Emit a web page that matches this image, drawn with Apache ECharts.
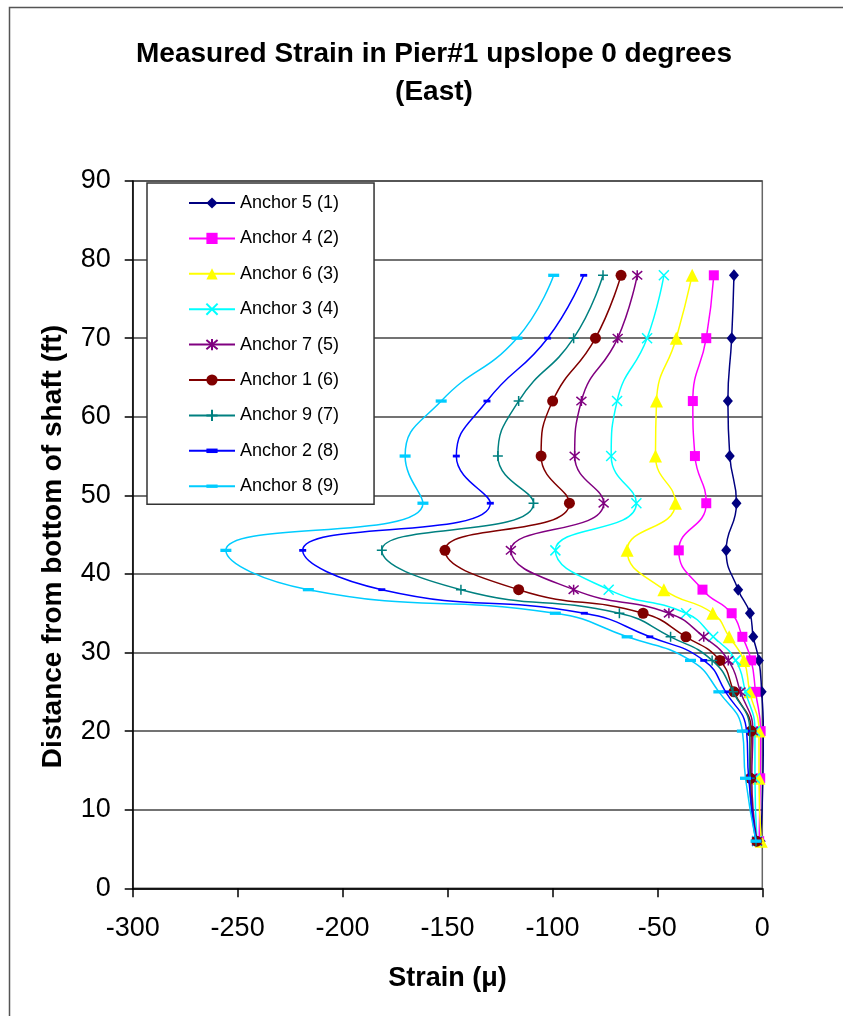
<!DOCTYPE html>
<html>
<head>
<meta charset="utf-8">
<script src="https://cdn.jsdelivr.net/npm/echarts@6/dist/echarts.min.js"></script>
<style>
html,body{margin:0;padding:0;background:#fff;}
#chart{width:843px;height:1016px;}
</style>
</head>
<body>
<div id="chart"></div>
<script>
// Depth (ft) of each gauge
const depths = [78, 70, 62, 55, 49, 43, 38, 35, 32, 29, 25, 20, 14, 6];
// Strain values for each anchor, same order as depths
const anchor5 = [-13.5, -14.6, -16.4, -15.5, -12.3, -17.2, -11.5, -5.9, -4.3, -1.6, -0.3, 0.5, 0.3, -0.8];
const anchor4 = [-23.1, -26.7, -33.1, -32.1, -26.7, -39.8, -28.5, -14.6, -9.5, -5.3, -3.2, -0.8, -1.0, -1.5];
const anchor6 = [-33.4, -41.0, -50.4, -50.9, -41.4, -64.4, -46.9, -23.6, -15.8, -8.8, -6.0, -1.6, -1.6, -0.5];
const anchor3 = [-46.9, -54.9, -69.2, -72.0, -60.0, -98.6, -73.2, -36.3, -23.4, -12.7, -8.0, -3.5, -3.5, -2.5];
const anchor7 = [-59.6, -68.9, -86.2, -89.4, -75.6, -119.8, -89.9, -44.5, -27.9, -16.2, -10.4, -4.5, -5.0, -2.5];
const anchor1 = [-67.3, -79.5, -99.9, -105.4, -91.9, -151.2, -116.1, -56.8, -36.4, -20.2, -13.5, -5.3, -5.6, -2.7];
const anchor9 = [-75.9, -89.9, -116.1, -126.0, -109.0, -181.3, -143.6, -68.1, -43.7, -23.9, -14.0, -6.0, -6.0, -3.0];
const anchor2 = [-85.1, -102.3, -131.2, -145.8, -129.6, -219.0, -181.3, -84.8, -53.6, -27.9, -17.5, -7.5, -6.5, -3.0];
const anchor8 = [-99.4, -116.9, -153.0, -170.2, -161.7, -255.6, -216.3, -98.6, -64.4, -34.2, -20.7, -9.5, -8.0, -3.0];

const seriesNames = ['Anchor 5 (1)', 'Anchor 4 (2)', 'Anchor 6 (3)', 'Anchor 3 (4)', 'Anchor 7 (5)',
                     'Anchor 1 (6)', 'Anchor 9 (7)', 'Anchor 2 (8)', 'Anchor 8 (9)'];
const seriesValues = [anchor5, anchor4, anchor6, anchor3, anchor7, anchor1, anchor9, anchor2, anchor8];

const xTicks = {min: -300, max: 0, interval: 50};
const yTicks = {min: 0, max: 90, interval: 10};
const titleLines = ['Measured Strain in Pier#1 upslope 0 degrees', '(East)'];
const xName = 'Strain (\u03bc)';
const yName = 'Distance from bottom of shaft (ft)';

// styles
const FONT = "'Liberation Sans', Arial, sans-serif";
const styles = [
  {color: '#000080', symbol: 'diamond', size: [10, 12], stroke: false},
  {color: '#FF00FF', symbol: 'rect', size: 10, stroke: false},
  {color: '#FFFF00', symbol: 'triangle', size: 13, stroke: false},
  {color: '#00FFFF', symbol: 'path://M0,0L10,10M10,0L0,10', size: 10, stroke: true},
  {color: '#800080', symbol: 'path://M0,0L10,10M10,0L0,10M5,-1L5,11', size: 10, stroke: true},
  {color: '#800000', symbol: 'circle', size: 11, stroke: false},
  {color: '#008080', symbol: 'path://M5,0L5,10M0,5L10,5', size: 10, stroke: true},
  {color: '#0000FF', symbol: 'path://M0,0M10,10M0,3L10,3L10,7L0,7Z', size: 7, stroke: false},
  {color: '#00CCFF', symbol: 'path://M0,0M10,10M0,3.5L10,3.5L10,6.5L0,6.5Z', size: 11, stroke: false}
];

const series = seriesNames.map((name, i) => {
  const st = styles[i];
  return {
    name: name,
    type: 'line',
    smooth: 0.5,
    data: seriesValues[i].map((v, k) => [v, depths[k]]),
    symbol: st.symbol,
    symbolSize: st.size,
    showAllSymbol: true,
    lineStyle: {color: st.color, width: 1.5},
    itemStyle: {color: st.color, borderColor: st.color, borderWidth: st.stroke ? 1.5 : 0},
    emphasis: {disabled: true},
    z: 2 + i
  };
});

const chart = echarts.init(document.getElementById('chart'), null, {renderer: 'canvas'});
chart.setOption({
  backgroundColor: '#ffffff',
  animation: false,
  graphic: [
    {type: 'rect', shape: {x: 9.5, y: 7.5, width: 900, height: 1100}, style: {fill: 'none', stroke: '#555', lineWidth: 1.5}, z: 0, silent: true},
    {type: 'text', x: 434, y: 54, style: {text: titleLines[0], font: "bold 28px " + FONT, fill: '#000', textAlign: 'center', textVerticalAlign: 'middle'}, z: 10},
    {type: 'text', x: 434, y: 92, style: {text: titleLines[1], font: "bold 28px " + FONT, fill: '#000', textAlign: 'center', textVerticalAlign: 'middle'}, z: 10}
  ],
  grid: {left: 132.7, right: 80.7, top: 181, bottom: 127.7, show: true, borderColor: '#666', borderWidth: 1.5, backgroundColor: 'transparent'},
  legend: {
    orient: 'vertical',
    left: 147, top: 183,
    padding: [11, 35, 9, 41],
    itemWidth: 46, itemHeight: 14, itemGap: 17.4,
    backgroundColor: '#fff', borderColor: '#333', borderWidth: 1.5,
    textStyle: {fontFamily: FONT, fontSize: 18, color: '#000'},
    data: seriesNames
  },
  xAxis: {
    type: 'value', min: xTicks.min, max: xTicks.max, interval: xTicks.interval,
    name: xName, nameLocation: 'middle', nameGap: 77,
    nameTextStyle: {fontFamily: FONT, fontSize: 27, fontWeight: 'bold', color: '#000'},
    axisLine: {show: true, onZero: false, lineStyle: {color: '#000', width: 1.5}},
    axisTick: {show: true, length: 9, inside: false, lineStyle: {color: '#000', width: 1.5}},
    axisLabel: {fontFamily: FONT, fontSize: 27, color: '#000', margin: 27},
    splitLine: {show: false}
  },
  yAxis: {
    type: 'value', min: yTicks.min, max: yTicks.max, interval: yTicks.interval,
    name: yName, nameLocation: 'middle', nameGap: 65, nameRotate: 90,
    nameTextStyle: {fontFamily: FONT, fontSize: 28, fontWeight: 'bold', color: '#000', padding: [0, 24, 0, 0]},
    axisLine: {show: true, onZero: false, lineStyle: {color: '#000', width: 1.5}},
    axisTick: {show: true, length: 8, inside: false, lineStyle: {color: '#000', width: 1.5}},
    axisLabel: {fontFamily: FONT, fontSize: 27, color: '#000', margin: 22},
    splitLine: {show: true, lineStyle: {color: '#444', width: 1.5}}
  },
  series: series
});
</script>
</body>
</html>
